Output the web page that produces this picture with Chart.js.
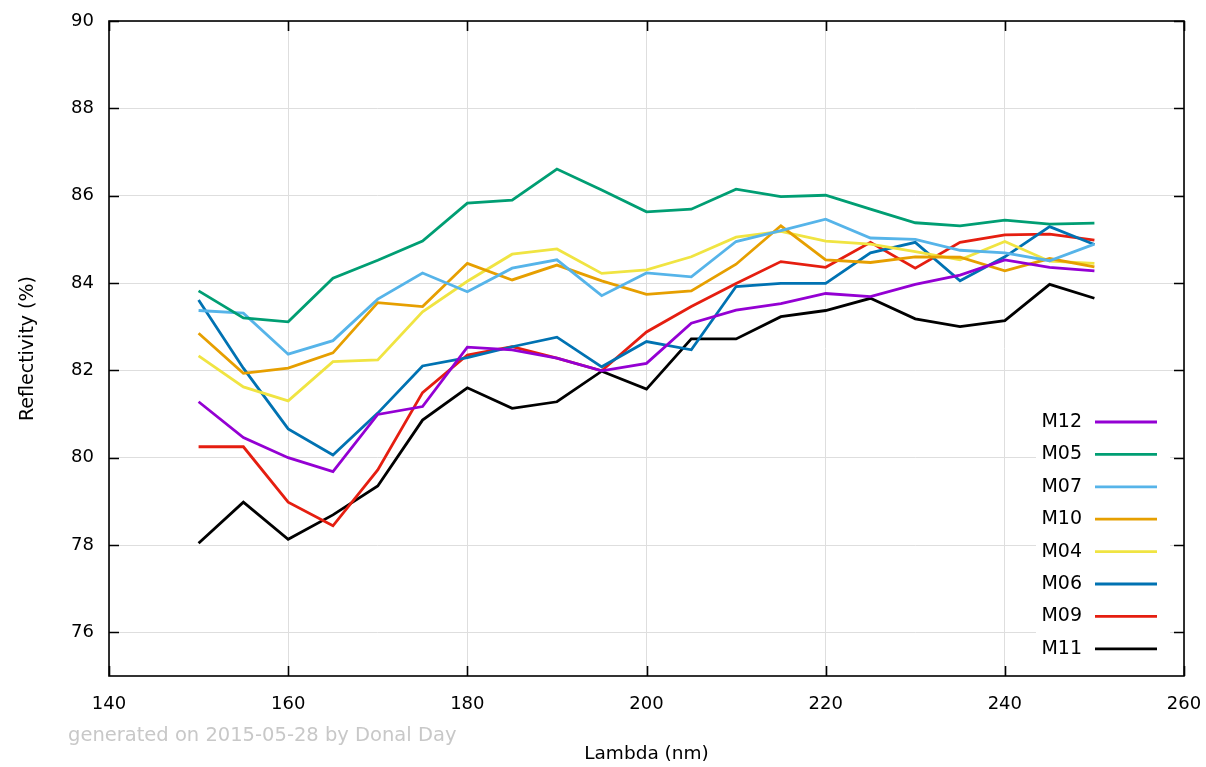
<!DOCTYPE html>
<html>
<head>
<meta charset="utf-8">
<script src="https://cdn.jsdelivr.net/npm/chart.js@4"></script>
<style>
  html, body { margin: 0; padding: 0; background: #fff; }
  #wrap { position: relative; width: 1206px; height: 767px; }
  #note {
    position: absolute; left: 68px; top: 723px;
    font-family: "DejaVu Sans", sans-serif; font-size: 19.5px; color: #c8c8c8;
  }
</style>
</head>
<body>
<div id="wrap">
  <canvas id="chart" width="1206" height="767"></canvas>
  <div id="note">generated on 2015-05-28 by Donal Day</div>
</div>
<script>
// wavelengths (nm)
const lambda = [150, 155, 160, 165, 170, 175, 180, 185, 190, 195, 200,
                205, 210, 215, 220, 225, 230, 235, 240, 245, 250];

const xTicks = [140, 160, 180, 200, 220, 240, 260];
const yTicks = [76, 78, 80, 82, 84, 86, 88, 90];

// reflectivity (%) per mirror
const m12 = [81.28, 80.46, 80.00, 79.68, 80.99, 81.17, 82.53, 82.47, 82.28, 81.99, 82.16,
             83.08, 83.38, 83.53, 83.76, 83.69, 83.97, 84.18, 84.53, 84.36, 84.28];
const m05 = [83.82, 83.20, 83.11, 84.11, 84.52, 84.96, 85.83, 85.90, 86.61, 86.13, 85.63,
             85.69, 86.15, 85.98, 86.01, 85.69, 85.38, 85.31, 85.44, 85.35, 85.37];
const m07 = [83.37, 83.31, 82.37, 82.68, 83.63, 84.23, 83.80, 84.34, 84.53, 83.71, 84.23,
             84.14, 84.95, 85.20, 85.46, 85.03, 85.00, 84.75, 84.69, 84.51, 84.89];
const m10 = [82.85, 81.93, 82.05, 82.40, 83.55, 83.46, 84.45, 84.07, 84.41, 84.05, 83.74,
             83.82, 84.43, 85.31, 84.53, 84.47, 84.60, 84.59, 84.28, 84.56, 84.37];
const m04 = [82.33, 81.62, 81.30, 82.20, 82.24, 83.34, 84.04, 84.66, 84.78, 84.22, 84.30,
             84.60, 85.05, 85.18, 84.96, 84.89, 84.72, 84.53, 84.95, 84.50, 84.45];
const m06 = [83.61, 82.05, 80.66, 80.06, 81.02, 82.10, 82.29, 82.54, 82.76, 82.08, 82.66,
             82.47, 83.92, 83.99, 83.99, 84.69, 84.93, 84.05, 84.60, 85.29, 84.88];
const m09 = [80.25, 80.25, 78.98, 78.44, 79.72, 81.49, 82.35, 82.54, 82.28, 81.99, 82.88,
             83.46, 83.99, 84.49, 84.36, 84.93, 84.34, 84.93, 85.10, 85.12, 84.98];
const m11 = [78.04, 78.98, 78.13, 78.69, 79.35, 80.86, 81.60, 81.13, 81.28, 81.98, 81.57,
             82.72, 82.72, 83.23, 83.37, 83.65, 83.18, 83.00, 83.14, 83.97, 83.65];

const FONT = '"DejaVu Sans", sans-serif';

function series(label, values, color) {
    return {
        label: label,
        data: values.map((v, i) => ({ x: lambda[i], y: v })),
        borderColor: color,
        backgroundColor: color,
        borderWidth: 2.8,
        pointRadius: 0,
        tension: 0,
        fill: false
    };
}

// no extra room for overhanging tick labels, the layout padding decides
function noOverhang(s) {
    s.paddingTop = 0;
    s.paddingBottom = 0;
    s.paddingLeft = 0;
    s.paddingRight = 0;
}

// gnuplot-style frame: box border, inward ticks on all four sides
const framePlugin = {
    id: 'frame',
    afterDatasetsDraw(chart) {
        const ctx = chart.ctx;
        const a = chart.chartArea;
        const xs = chart.scales.x;
        const ys = chart.scales.y;
        const len = 10;
        ctx.save();
        ctx.strokeStyle = '#000';
        ctx.lineWidth = 1.6;
        ctx.beginPath();
        yTicks.forEach(v => {
            const py = Math.round(ys.getPixelForValue(v)) + 0.5;
            ctx.moveTo(a.left, py); ctx.lineTo(a.left + len, py);
            ctx.moveTo(a.right, py); ctx.lineTo(a.right - len, py);
        });
        xTicks.forEach(v => {
            const px = Math.round(xs.getPixelForValue(v)) + 0.5;
            ctx.moveTo(px, a.bottom); ctx.lineTo(px, a.bottom - len);
            ctx.moveTo(px, a.top); ctx.lineTo(px, a.top + len);
        });
        ctx.stroke();
        ctx.strokeRect(a.left, a.top, a.right - a.left, a.bottom - a.top);
        ctx.restore();
    }
};

// key box inside the plot, bottom right
const keyPlugin = {
    id: 'key',
    afterDraw(chart) {
        const ctx = chart.ctx;
        const sets = chart.data.datasets;
        const textRight = 1082;
        const lineL = 1095, lineR = 1157;
        const top = 422, step = 32.4;
        ctx.save();
        ctx.fillStyle = '#fff';
        ctx.fillRect(1036, top - 16, 134, step * (sets.length - 1) + 32);
        ctx.font = '19px ' + FONT;
        ctx.textAlign = 'right';
        ctx.textBaseline = 'middle';
        sets.forEach((ds, i) => {
            const y = top + i * step;
            ctx.fillStyle = '#000';
            ctx.fillText(ds.label, textRight, y);
            ctx.strokeStyle = ds.borderColor;
            ctx.lineWidth = 2.8;
            ctx.beginPath();
            ctx.moveTo(lineL, y);
            ctx.lineTo(lineR, y);
            ctx.stroke();
        });
        ctx.restore();
    }
};

new Chart(document.getElementById('chart'), {
    type: 'line',
    data: {
        datasets: [
            series('M12', m12, '#9400d3'),
            series('M05', m05, '#009e73'),
            series('M07', m07, '#56b4e9'),
            series('M10', m10, '#e69f00'),
            series('M04', m04, '#f0e442'),
            series('M06', m06, '#0072b2'),
            series('M09', m09, '#e51e10'),
            series('M11', m11, '#000000')
        ]
    },
    options: {
        responsive: false,
        animation: false,
        layout: { padding: { top: 21, right: 22, left: 0, bottom: 0 } },
        plugins: {
            legend: { display: false },
            tooltip: { enabled: false }
        },
        scales: {
            x: {
                type: 'linear',
                min: 140,
                max: 260,
                afterBuildTicks: s => { s.ticks = xTicks.map(v => ({ value: v })); },
                afterFit: s => { s.height = 91; noOverhang(s); },
                border: { display: false },
                grid: { color: '#dedede', lineWidth: 1, drawTicks: false },
                ticks: { color: '#000', font: { family: FONT, size: 18 }, padding: 18, maxRotation: 0 },
                title: {
                    display: true,
                    text: 'Lambda (nm)',
                    color: '#000',
                    font: { family: FONT, size: 18.5 },
                    padding: { top: 0, bottom: 2 }
                }
            },
            y: {
                type: 'linear',
                min: 75,
                max: 90,
                afterBuildTicks: s => { s.ticks = yTicks.map(v => ({ value: v })); },
                afterFit: s => { s.width = 109; noOverhang(s); },
                border: { display: false },
                grid: { color: '#dedede', lineWidth: 1, drawTicks: false },
                ticks: { color: '#000', font: { family: FONT, size: 18 }, padding: 15 },
                title: {
                    display: true,
                    text: 'Reflectivity (%)',
                    color: '#000',
                    font: { family: FONT, size: 19 },
                    padding: { top: 17, bottom: 0 }
                }
            }
        }
    },
    plugins: [framePlugin, keyPlugin]
});
</script>
</body>
</html>
